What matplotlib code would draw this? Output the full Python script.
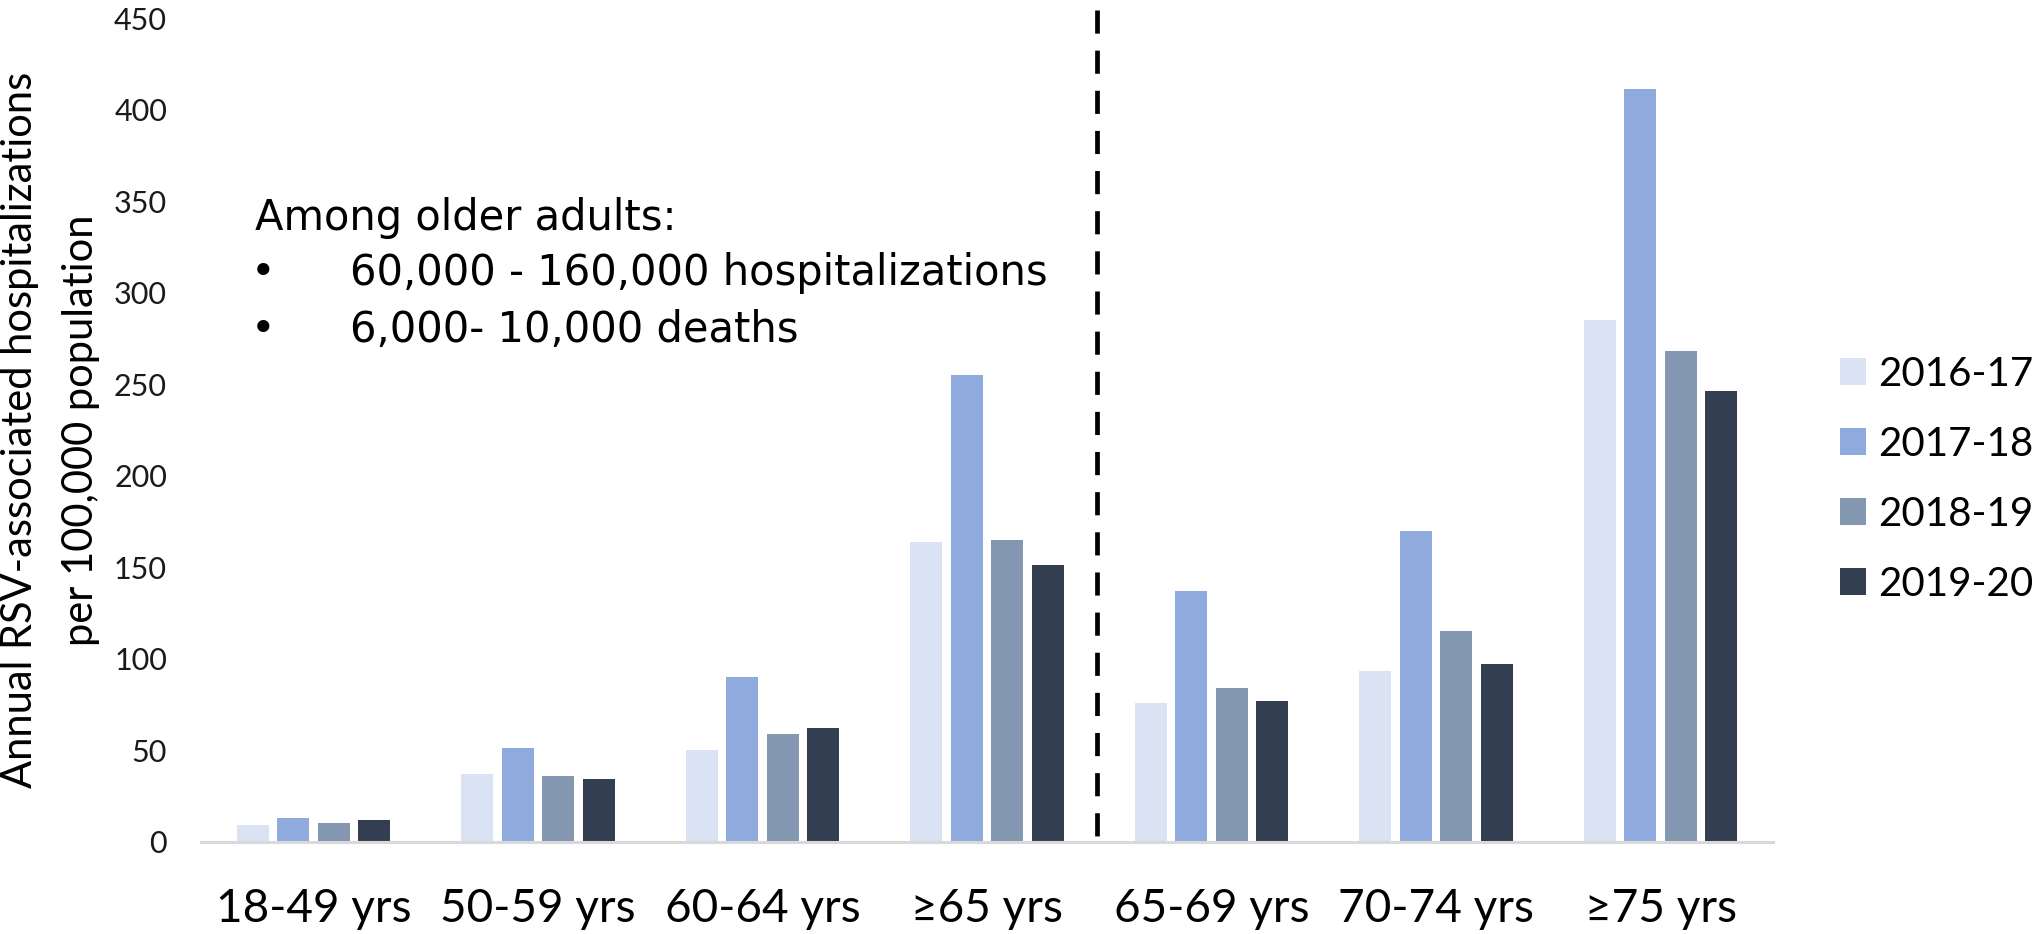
import matplotlib
matplotlib.use('Agg')
import matplotlib.pyplot as plt
import numpy as np

# age groups on the x axis
categories = ['18-49 yrs', '50-59 yrs', '60-64 yrs', '\u226565 yrs',
              '65-69 yrs', '70-74 yrs', '\u226575 yrs']
seasons = ['2016-17', '2017-18', '2018-19', '2019-20']

# rates per 100,000
rate_2016_17 = [9, 37, 50, 164, 76, 93, 285]
rate_2017_18 = [13, 51, 90, 255, 137, 170, 411]
rate_2018_19 = [10, 36, 59, 165, 84, 115, 268]
rate_2019_20 = [12, 34, 62, 151, 77, 97, 246]

season_colors = ['#DAE3F3', '#8FAADC', '#8497B0', '#333F50']
y_ticks = list(range(0, 451, 50))

note_title = 'Among older adults:'
note_items = ['60,000 - 160,000 hospitalizations', '6,000- 10,000 deaths']

calibri_like = ['Lato', 'DejaVu Sans']
arial_like = ['DejaVu Sans']

fig = plt.figure(figsize=(20.33, 9.34), dpi=100)
ax = fig.add_axes([0.0989, 0.0988, 0.7732, 0.8819])

x = np.arange(len(categories))
pitch = 0.1803
width = 0.1425
all_rates = [rate_2016_17, rate_2017_18, rate_2018_19, rate_2019_20]
handles = []
for i, (vals, col, lab) in enumerate(zip(all_rates, season_colors, seasons)):
    b = ax.bar(x + (i - 1.5) * pitch, vals, width, color=col, label=lab)
    handles.append(b)

# dashed separator between the >=65 total and its sub-groups
ax.plot([3.49, 3.49], [454.5, 0], color='black', linewidth=3.4,
        linestyle=(0, (4.9, 3.6)), clip_on=False, zorder=3)

ax.set_xlim(-0.5, 6.5)
ax.set_ylim(0, 450)
ax.set_xticks(x)
ax.set_xticklabels(categories, fontsize=33, family=calibri_like)
ax.set_yticks(y_ticks)
ax.set_yticklabels([str(t) for t in y_ticks], fontsize=22, family=calibri_like,
                   color='#1a1a1a')
ax.tick_params(axis='both', length=0)
ax.tick_params(axis='x', pad=33)
ax.tick_params(axis='y', pad=24.5)
for s in ['top', 'right', 'left']:
    ax.spines[s].set_visible(False)
ax.spines['bottom'].set_color('#D9D9D9')
ax.spines['bottom'].set_linewidth(2.2)

ax.set_ylabel('Annual RSV-associated hospitalizations\nper 100,000 population',
              fontsize=30, family=calibri_like, linespacing=1.75)
ax.yaxis.set_label_coords(-0.0643, 0.5)

# note in the upper left
fig.text(0.1254, 1 - 230 / 934, note_title, fontsize=30, family=arial_like,
         va='baseline')
for k, item in enumerate(note_items):
    yy = 1 - (285 + 57 * k) / 934
    fig.text(0.1294, yy, '\u2022', fontsize=30, family=arial_like,
             va='baseline', ha='center')
    fig.text(0.1722, yy, item, fontsize=30, family=arial_like, va='baseline')

fig.legend(handles=handles, loc='center left', bbox_to_anchor=(0.905, 0.487),
           frameon=False, handlelength=0.645, handleheight=0.645,
           handletextpad=0.3, labelspacing=0.82, borderpad=0, borderaxespad=0,
           prop={'family': calibri_like, 'size': 29})

fig.savefig('out.png', dpi=100)
